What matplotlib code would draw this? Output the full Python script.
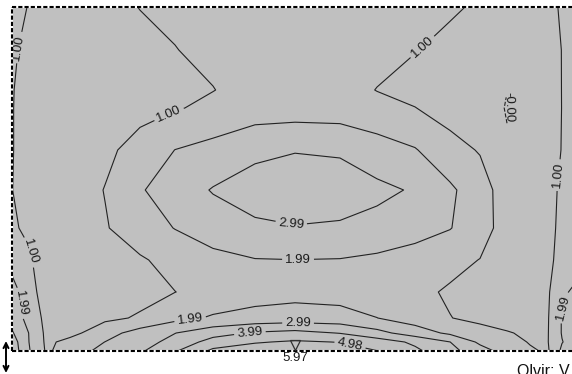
import numpy as np
import matplotlib
matplotlib.use("Agg")
import matplotlib.pyplot as plt
from matplotlib.transforms import offset_copy

plt.rcParams['font.family'] = ['Liberation Sans', 'DejaVu Sans']

# grid node coordinates (distance units along section)
x_dist = [0, 18, 35, 58, 93, 128, 163, 201, 243, 283, 328, 365, 403, 438, 468, 495, 518, 536, 550, 573]
# rows listed from top (y=344) to bottom (y=0)
y_dist = [344, 301, 261, 243, 201, 161, 123, 91, 59, 33, 18, 9, 0]

z_y344 = [1.15, 0.97, 0.85, 0.70, 0.72, 1.02, 1.15, 1.28, 1.38, 1.42, 1.40, 1.30, 1.20, 1.10, 0.90, 0.50, 0.65, 0.88, 1.05, 1.20]
z_y301 = [1.05, 0.90, 0.75, 0.60, 0.55, 0.75, 0.98, 1.18, 1.35, 1.45, 1.40, 1.25, 1.03, 0.80, 0.50, 0.25, 0.50, 0.80, 1.01, 1.15]
z_y261 = [1.02, 0.85, 0.70, 0.55, 0.50, 0.60, 0.80, 0.98, 1.30, 1.40, 1.30, 0.98, 0.70, 0.40, 0.15, 0.005, 0.35, 0.75, 1.01, 1.15]
z_y243 = [1.02, 0.80, 0.65, 0.50, 0.50, 0.70, 0.93, 1.20, 1.45, 1.50, 1.45, 1.25, 1.02, 0.60, 0.25, -0.03, 0.30, 0.70, 1.01, 1.15]
z_y201 = [1.02, 0.80, 0.60, 0.45, 0.80, 1.35, 2.00, 2.30, 2.80, 2.95, 2.90, 2.45, 2.05, 1.35, 0.93, 0.05, 0.40, 0.75, 1.02, 1.20]
z_y161 = [1.01, 0.75, 0.55, 0.50, 1.03, 1.90, 2.50, 3.05, 3.35, 3.45, 3.35, 3.20, 2.90, 2.15, 1.45, 0.50, 0.55, 0.85, 1.08, 1.25]
z_y123 = [1.05, 0.92, 0.60, 0.55, 0.93, 1.50, 2.02, 2.50, 2.85, 2.95, 2.90, 2.70, 2.40, 2.03, 1.40, 0.60, 0.60, 0.88, 1.10, 1.30]
z_y91  = [1.50, 1.05, 0.70, 0.50, 0.60, 0.90, 1.30, 1.70, 1.95, 1.98, 1.95, 1.80, 1.55, 1.25, 0.98, 0.65, 0.65, 0.90, 1.15, 1.70]
z_y59  = [2.50, 1.20, 0.70, 0.55, 0.50, 0.70, 0.99, 1.30, 1.60, 1.70, 1.60, 1.45, 1.20, 0.90, 0.70, 0.60, 0.68, 0.90, 1.75, 2.60]
z_y33  = [2.60, 1.60, 0.70, 0.60, 0.80, 1.10, 1.70, 2.10, 2.30, 2.40, 2.35, 2.00, 1.50, 1.02, 0.80, 0.70, 0.75, 0.95, 2.05, 2.60]
z_y18  = [3.10, 1.90, 0.75, 0.70, 1.60, 2.40, 2.97, 3.60, 4.10, 4.30, 3.95, 3.30, 2.50, 1.80, 1.30, 1.05, 0.88, 0.97, 2.05, 2.60]
z_y9   = [3.50, 1.90, 0.80, 1.30, 2.00, 2.60, 3.30, 4.40, 4.90, 5.10, 4.95, 4.50, 3.80, 3.00, 1.80, 1.30, 0.95, 0.98, 1.95, 2.80]
z_y0   = [3.60, 2.00, 0.85, 1.50, 2.30, 2.85, 3.90, 5.20, 5.50, 5.97, 5.50, 5.00, 4.20, 3.30, 2.40, 1.60, 1.10, 0.90, 2.20, 3.00]

contour_levels = [-0.001, 1.00, 1.99, 2.99, 3.99, 4.98]

# approximate label anchor points (data coords)
label_points = [(9, 303), (156, 239), (418, 296), (545, 176), (18, 99),
                (495, 244), (286, 93), (280, 131), (178, 33), (10, 48),
                (549, 44), (286, 26), (238, 17), (338, 6)]

Z = np.array([z_y344, z_y301, z_y261, z_y243, z_y201, z_y161, z_y123,
              z_y91, z_y59, z_y33, z_y18, z_y9, z_y0])[::-1]
X = np.array(x_dist, dtype=float)
Y = np.array(y_dist, dtype=float)[::-1]

fig = plt.figure(figsize=(5.72, 3.74), dpi=100)
ax = fig.add_axes([12 / 572, 23 / 374, 573 / 572, 344 / 374])
ax.set_facecolor('#c0c0c0')
ax.set_xlim(0, 573)
ax.set_ylim(0, 344)
ax.set_xticks([])
ax.set_yticks([])
for s in ax.spines.values():
    s.set_visible(False)

cs = ax.contour(X, Y, Z, levels=contour_levels, colors='#222222', linewidths=0.8)
ax.clabel(cs, fmt='%.2f', manual=label_points, inline=True, inline_spacing=3,
          fontsize=9.5, colors='#1a1a1a')

# dotted frame (top, left, bottom)
for xs, ys in [((0, 1), (1, 1)), ((0, 0), (0, 1)), ((0, 1), (0, 0))]:
    ax.plot(xs, ys, transform=ax.transAxes, color='white', lw=1.5,
            clip_on=False, solid_capstyle='butt', zorder=5)
    ax.plot(xs, ys, transform=ax.transAxes, color='black', lw=1.5,
            ls=(0, (2.0, 1.0)), dash_capstyle='butt', clip_on=False, zorder=6)

# maximum marker
iy, ix = np.unravel_index(np.argmax(Z), Z.shape)
xm, ym = X[ix], Y[iy]
ax.plot([xm], [ym], marker='v', ms=6.5, mfc='none', mec='#303030', mew=0.9,
        transform=offset_copy(ax.transData, fig=fig, y=4.0, units='points'),
        clip_on=False, zorder=7)
ax.annotate('%.2f' % Z.max(), (xm, ym), xytext=(0, -0.5), textcoords='offset points',
            ha='center', va='top', fontsize=9.5, color='#1a1a1a', annotation_clip=False)

# scale arrow and legend text (partially cropped, as in the source)
ax.annotate('', xy=(6, 33), xytext=(6, 1), xycoords='figure pixels',
            textcoords='figure pixels',
            arrowprops=dict(arrowstyle='<->', lw=1.4, color='black',
                            shrinkA=0, shrinkB=0, mutation_scale=9),
            annotation_clip=False)
fig.text(517 / 572, -1.5 / 374, 'Olvir: V', fontsize=11.5, ha='left', va='baseline',
         color='#111111')

fig.savefig('out.png', dpi=100)
